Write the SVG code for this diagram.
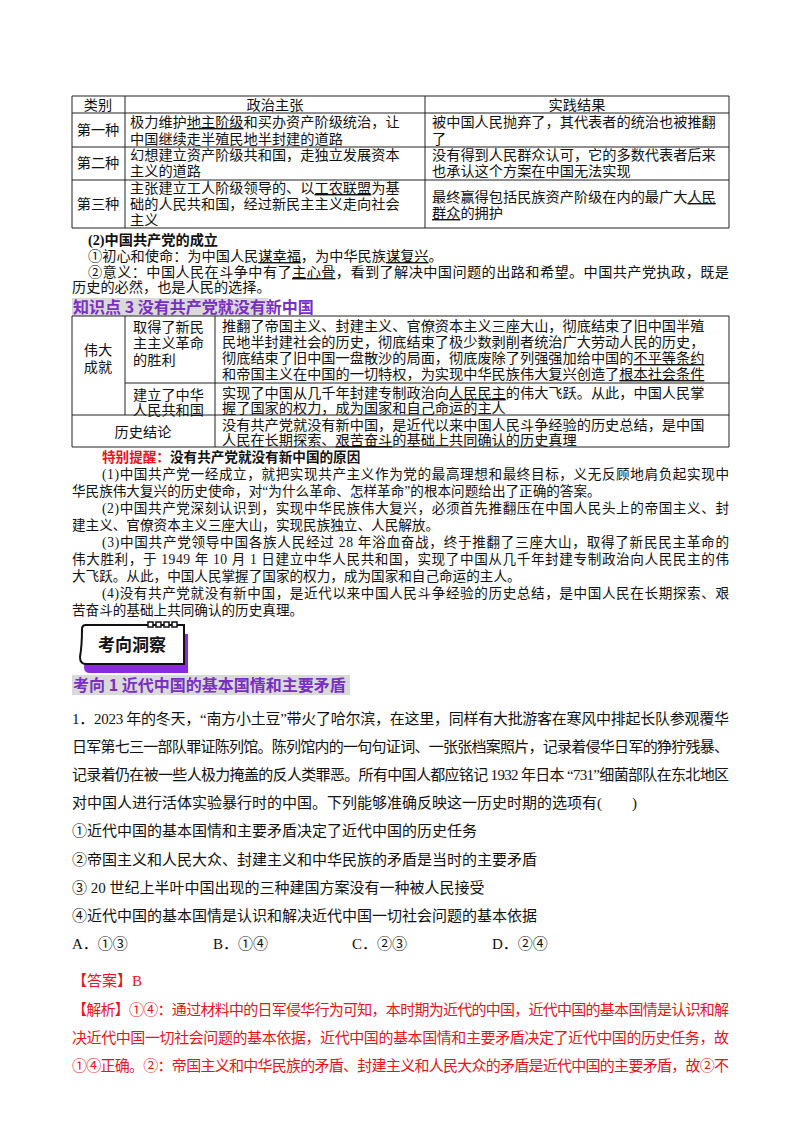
<svg xmlns="http://www.w3.org/2000/svg" width="800" height="1132" viewBox="0 0 800 1132">
<style>
text{font-family:"Liberation Serif","Noto Sans CJK SC",serif;fill:#111}
.t{font-size:14.2px}
.b{font-size:13.6px}
.q{font-size:15px}
.u{text-decoration:underline}
.grid line{stroke:#222;stroke-width:1}
.red{fill:#e8141a}
.h{font-family:"Noto Sans CJK SC",sans-serif;font-weight:bold;fill:#7a2fc4;font-size:16px}
</style>
<rect width="800" height="1132" fill="#fff"/>
<g id="table1">
<g class="grid">
<line x1="72" y1="96" x2="729" y2="96"/><line x1="72" y1="113" x2="729" y2="113"/>
<line x1="72" y1="147" x2="729" y2="147"/><line x1="72" y1="180" x2="729" y2="180"/>
<line x1="72" y1="228" x2="729" y2="228"/>
<line x1="72" y1="96" x2="72" y2="228"/><line x1="125" y1="96" x2="125" y2="228"/>
<line x1="425" y1="96" x2="425" y2="228"/><line x1="729" y1="96" x2="729" y2="228"/>
</g>
<g class="t">
<text x="98" y="110" text-anchor="middle">类别</text>
<text x="275" y="110" text-anchor="middle">政治主张</text>
<text x="577" y="110" text-anchor="middle">实践结果</text>
<text x="98" y="135" text-anchor="middle">第一种</text>
<text x="98" y="168" text-anchor="middle">第二种</text>
<text x="98" y="209" text-anchor="middle">第三种</text>
<text x="130" y="127">极力维护<tspan class="u">地主阶级</tspan>和买办资产阶级统治，让</text>
<text x="130" y="144">中国继续走半殖民地半封建的道路</text>
<text x="130" y="160">幻想建立资产阶级共和国，走独立发展资本</text>
<text x="130" y="176">主义的道路</text>
<text x="130" y="193">主张建立工人阶级领导的、以<tspan class="u">工农联盟</tspan>为基</text>
<text x="130" y="209">础的人民共和国，经过新民主主义走向社会</text>
<text x="130" y="225">主义</text>
<text x="432" y="127">被中国人民抛弃了，其代表者的统治也被推翻</text>
<text x="432" y="144">了</text>
<text x="432" y="160">没有得到人民群众认可，它的多数代表者后来</text>
<text x="432" y="176">也承认这个方案在中国无法实现</text>
<text x="432" y="202">最终赢得包括民族资产阶级在内的最广大<tspan class="u">人民</tspan></text>
<text x="432" y="218"><tspan class="u">群众</tspan>的拥护</text>
</g>
</g>
<g id="party" class="t">
<text x="88" y="245" font-weight="bold" font-family="Liberation Sans,Noto Sans CJK SC,sans-serif">(2)中国共产党的成立</text>
<text x="88" y="261">①初心和使命：为中国人民<tspan class="u">谋幸福</tspan>，为中华民族<tspan class="u">谋复兴</tspan>。</text>
<text x="88" y="277" textLength="641" lengthAdjust="spacing">②意义：中国人民在斗争中有了<tspan class="u">主心骨</tspan>，看到了解决中国问题的出路和希望。中国共产党执政，既是</text>
<text x="72" y="292">历史的必然，也是人民的选择。</text>
</g>
<g id="kp3">
<rect x="72" y="298" width="196" height="18" fill="#d9d9d9"/>
<text x="73" y="313" class="h" font-size="15.5">知识点 3  没有共产党就没有新中国</text>
</g>
<g id="table2">
<g class="grid">
<line x1="72" y1="316" x2="729" y2="316"/><line x1="125" y1="383" x2="729" y2="383"/>
<line x1="72" y1="415" x2="729" y2="415"/><line x1="72" y1="447" x2="729" y2="447"/>
<line x1="72" y1="316" x2="72" y2="447"/><line x1="125" y1="316" x2="125" y2="415"/>
<line x1="215" y1="316" x2="215" y2="447"/><line x1="729" y1="316" x2="729" y2="447"/>
</g>
<g class="t">
<text x="98" y="355" text-anchor="middle">伟大</text>
<text x="98" y="372" text-anchor="middle">成就</text>
<text x="133" y="332">取得了新民</text>
<text x="133" y="348">主主义革命</text>
<text x="133" y="365">的胜利</text>
<text x="133" y="400">建立了中华</text>
<text x="133" y="415">人民共和国</text>
<text x="143" y="437" text-anchor="middle">历史结论</text>
<text x="222" y="331">推翻了帝国主义、封建主义、官僚资本主义三座大山，彻底结束了旧中国半殖</text>
<text x="222" y="347">民地半封建社会的历史，彻底结束了极少数剥削者统治广大劳动人民的历史，</text>
<text x="222" y="363">彻底结束了旧中国一盘散沙的局面，彻底废除了列强强加给中国的<tspan class="u">不平等条约</tspan></text>
<text x="222" y="379">和帝国主义在中国的一切特权，为实现中华民族伟大复兴创造了<tspan class="u">根本社会条件</tspan></text>
<text x="222" y="398">实现了中国从几千年封建专制政治向<tspan class="u">人民民主</tspan>的伟大飞跃。从此，中国人民掌</text>
<text x="222" y="413">握了国家的权力，成为国家和自己命运的主人</text>
<text x="222" y="430">没有共产党就没有新中国，是近代以来中国人民斗争经验的历史总结，是中国</text>
<text x="222" y="445">人民在长期探索、<tspan class="u">艰苦奋斗</tspan>的基础上共同确认的历史真理</text>
</g>
</g>
<g id="tips" class="b">
<text x="102" y="462" font-weight="bold" font-family="Noto Sans CJK SC,sans-serif" font-size="13.6"><tspan class="red">特别提醒：</tspan>没有共产党就没有新中国的原因</text>
<text x="102" y="479" textLength="627" lengthAdjust="spacing">(1)中国共产党一经成立，就把实现共产主义作为党的最高理想和最终目标，义无反顾地肩负起实现中</text>
<text x="72" y="496">华民族伟大复兴的历史使命，对“为什么革命、怎样革命”的根本问题给出了正确的答案。</text>
<text x="102" y="513" textLength="627" lengthAdjust="spacing">(2)中国共产党深刻认识到，实现中华民族伟大复兴，必须首先推翻压在中国人民头上的帝国主义、封</text>
<text x="72" y="530">建主义、官僚资本主义三座大山，实现民族独立、人民解放。</text>
<text x="102" y="547" textLength="627" lengthAdjust="spacing">(3)中国共产党领导中国各族人民经过 28 年浴血奋战，终于推翻了三座大山，取得了新民民主革命的</text>
<text x="72" y="564" textLength="657" lengthAdjust="spacing">伟大胜利，于 1949 年 10 月 1 日建立中华人民共和国，实现了中国从几千年封建专制政治向人民民主的伟</text>
<text x="72" y="581">大飞跃。从此，中国人民掌握了国家的权力，成为国家和自己命运的主人。</text>
<text x="102" y="598" textLength="627" lengthAdjust="spacing">(4)没有共产党就没有新中国，是近代以来中国人民斗争经验的历史总结，是中国人民在长期探索、艰</text>
<text x="72" y="615">苦奋斗的基础上共同确认的历史真理。</text>
</g>
<g id="badge">
<path d="M86 634 H188 V673 H90 Q84 673 84 667 Z" fill="#8a2be2"/>
<path d="M82 629 Q82 625 86 625 H184 V664 H86 Q80 664 80 657 Q82 645 82 629 Z" fill="#fff" stroke="#111" stroke-width="2"/>
<g fill="#fff" stroke="#111" stroke-width="1.5">
<rect x="148" y="622" width="5" height="5"/><rect x="156" y="622" width="5" height="5"/><rect x="164" y="622" width="5" height="5"/><rect x="172" y="622" width="5" height="5"/>
</g>
<text x="132" y="651" text-anchor="middle" font-family="Noto Sans CJK SC,sans-serif" font-weight="bold" font-size="17">考向洞察</text>
</g>
<g id="kx1">
<rect x="72" y="675" width="278" height="20" fill="#d9d9d9"/>
<text x="73" y="691" class="h">考向 1  近代中国的基本国情和主要矛盾</text>
</g>
<g id="question" class="q">
<text x="72" y="724" textLength="657" lengthAdjust="spacing">1．2023 年的冬天，“南方小土豆”带火了哈尔滨，在这里，同样有大批游客在寒风中排起长队参观覆华</text>
<text x="72" y="752" textLength="657" lengthAdjust="spacing">日军第七三一部队罪证陈列馆。陈列馆内的一句句证词、一张张档案照片，记录着侵华日军的狰狞残暴、</text>
<text x="72" y="780" textLength="657" lengthAdjust="spacing">记录着仍在被一些人极力掩盖的反人类罪恶。所有中国人都应铭记 1932 年日本 “731”细菌部队在东北地区</text>
<text x="72" y="808">对中国人进行活体实验暴行时的中国。下列能够准确反映这一历史时期的选项有(　　)</text>
<text x="72" y="836">①近代中国的基本国情和主要矛盾决定了近代中国的历史任务</text>
<text x="72" y="865">②帝国主义和人民大众、封建主义和中华民族的矛盾是当时的主要矛盾</text>
<text x="72" y="893">③ 20 世纪上半叶中国出现的三种建国方案没有一种被人民接受</text>
<text x="72" y="921">④近代中国的基本国情是认识和解决近代中国一切社会问题的基本依据</text>
<text x="72" y="949">A．①③</text>
<text x="213" y="949">B．①④</text>
<text x="352" y="949">C．②③</text>
<text x="492" y="949">D．②④</text>
<text x="72" y="986" class="red">【答案】B</text>
<text x="72" y="1015" class="red" textLength="657" lengthAdjust="spacing">【解析】①④：通过材料中的日军侵华行为可知，本时期为近代的中国，近代中国的基本国情是认识和解</text>
<text x="72" y="1043" class="red" textLength="657" lengthAdjust="spacing">决近代中国一切社会问题的基本依据，近代中国的基本国情和主要矛盾决定了近代中国的历史任务，故</text>
<text x="72" y="1071" class="red" textLength="657" lengthAdjust="spacing">①④正确。②：帝国主义和中华民族的矛盾、封建主义和人民大众的矛盾是近代中国的主要矛盾，故②不</text>
</g>
</svg>
